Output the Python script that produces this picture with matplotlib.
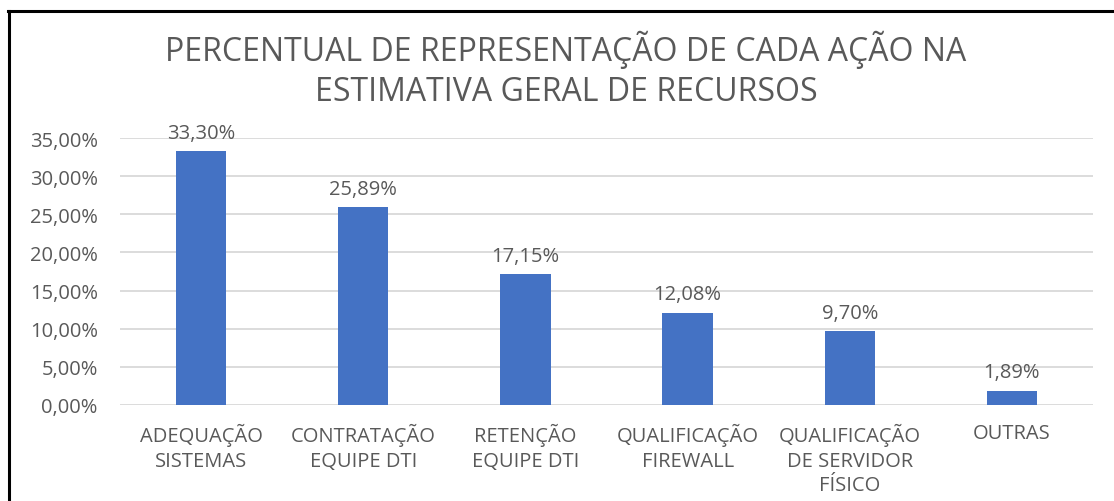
import matplotlib
matplotlib.use("Agg")
import matplotlib.pyplot as plt
from matplotlib.lines import Line2D
from matplotlib.ticker import FuncFormatter, MultipleLocator

categories = ["ADEQUAÇÃO\nSISTEMAS", "CONTRATAÇÃO\nEQUIPE DTI", "RETENÇÃO\nEQUIPE DTI",
              "QUALIFICAÇÃO\nFIREWALL", "QUALIFICAÇÃO\nDE SERVIDOR\nFÍSICO", "OUTRAS"]
values = [33.30, 25.89, 17.15, 12.08, 9.70, 1.89]
title = "PERCENTUAL DE REPRESENTAÇÃO DE CADA AÇÃO NA\nESTIMATIVA GERAL DE RECURSOS"

plt.rcParams['font.family'] = ['Open Sans', 'DejaVu Sans']
gray = "#595959"

fig = plt.figure(figsize=(11.14, 5.02), dpi=100)
ax = fig.add_axes([120/1114, 1-406/502, (1093-120)/1114, (406-139)/502])

x = range(len(categories))
ax.bar(x, values, width=0.31, color="#4472C4", zorder=3)
for xi, v in zip(x, values):
    ax.text(xi, v + 1.1, f"{v:.2f}%".replace(".", ","), ha="center", va="bottom",
            fontsize=14.5, color=gray)

ax.set_ylim(0, 35)
ax.set_xlim(-0.5, len(categories) - 0.5)
ax.yaxis.set_major_locator(MultipleLocator(5))
ax.yaxis.set_major_formatter(FuncFormatter(lambda v, p: f"{v:.2f}%".replace(".", ",")))
ax.grid(axis="y", color="#D9D9D9", linewidth=1.3, zorder=0)
for s in ax.spines.values():
    s.set_visible(False)
ax.tick_params(axis="both", length=0, labelsize=14.5, labelcolor=gray)
ax.tick_params(axis="y", pad=16)
ax.tick_params(axis="x", pad=13)
ax.set_xticks(list(x))
ax.set_xticklabels(categories, linespacing=1.3)

fig.text(566/1114, 1-70/502, title, ha="center", va="center", fontsize=23,
         color=gray, linespacing=1.25)

fig.add_artist(Line2D([9/1114, 9/1114], [0, 1-12/502], color="black", linewidth=2.2,
                      transform=fig.transFigure))
fig.add_artist(Line2D([8/1114, 1], [1-12/502, 1-12/502], color="black", linewidth=2.2,
                      transform=fig.transFigure))

fig.savefig("out.png", dpi=100)
